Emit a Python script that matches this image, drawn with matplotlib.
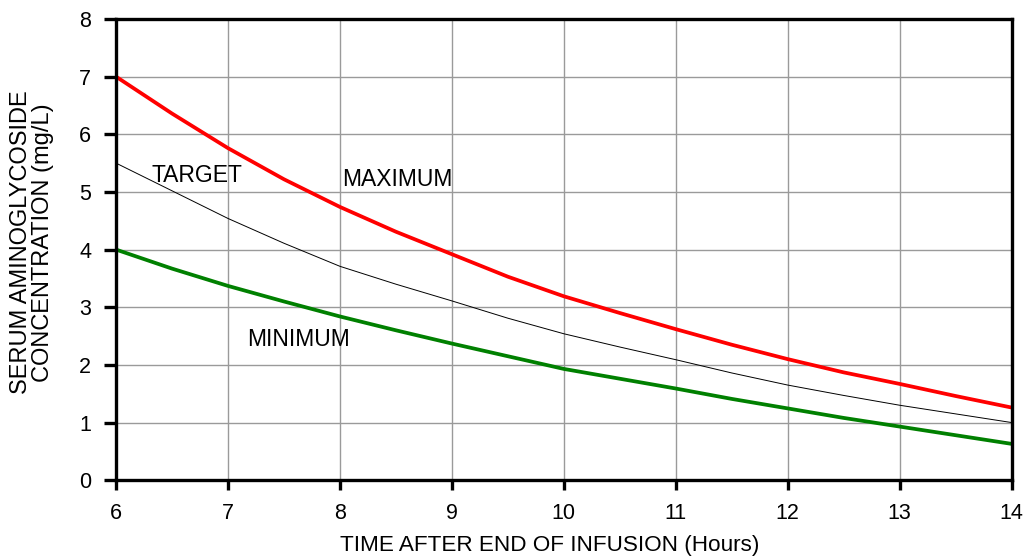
import numpy as np
import matplotlib
matplotlib.use("Agg")
import matplotlib.pyplot as plt

plt.rcParams['font.family'] = ['Liberation Sans', 'DejaVu Sans']

hours = [6, 6.5, 7, 7.5, 8, 8.5, 9, 9.5, 10, 10.5, 11, 11.5, 12, 12.5, 13, 13.5, 14]
maximum = [7.0, 6.36, 5.76, 5.22, 4.74, 4.31, 3.92, 3.53, 3.19, 2.90, 2.62, 2.35, 2.10, 1.87, 1.67, 1.46, 1.26]
target = [5.5, 5.02, 4.54, 4.11, 3.71, 3.40, 3.11, 2.81, 2.54, 2.31, 2.09, 1.86, 1.65, 1.47, 1.30, 1.15, 1.0]
minimum = [4.0, 3.67, 3.37, 3.10, 2.84, 2.60, 2.37, 2.15, 1.93, 1.76, 1.59, 1.41, 1.245, 1.08, 0.93, 0.78, 0.63]

fig = plt.figure(figsize=(10.27, 5.59), dpi=100)
ax = fig.add_axes([0.113, 0.141, 0.872, 0.825])

ax.plot(hours, maximum, color='#ff0000', lw=2.7, solid_joinstyle='round')
ax.plot(hours, target, color='black', lw=0.7)
ax.plot(hours, minimum, color='#008000', lw=2.7, solid_joinstyle='round')

ax.text(6.32, 5.17, 'TARGET', fontsize=16.5)
ax.text(8.02, 5.1, 'MAXIMUM', fontsize=16.5)
ax.text(7.17, 2.33, 'MINIMUM', fontsize=16.5)

ax.set_xlim(6, 14)
ax.set_ylim(0, 8)
ax.set_xticks(range(6, 15))
ax.set_yticks(range(0, 9))
ax.grid(True, color='#9a9a9a', lw=1.0)
ax.set_axisbelow(True)
for s in ax.spines.values():
    s.set_linewidth(2.4)
    s.set_color('black')
ax.tick_params(axis='x', direction='out', length=7.5, width=2.4, labelsize=15.5, pad=9)
ax.tick_params(axis='y', direction='out', length=9, width=2.4, labelsize=15.5, pad=9)
ax.set_xlabel('TIME AFTER END OF INFUSION (Hours)', fontsize=16.2)
ax.xaxis.set_label_coords(0.484, -0.118)
ax.set_ylabel('SERUM AMINOGLYCOSIDE\nCONCENTRATION (mg/L)', fontsize=17, linespacing=1.0)
ax.yaxis.label.set_va('center')
ax.yaxis.set_label_coords(-0.094, 0.516)

fig.savefig('out.png', dpi=100)
